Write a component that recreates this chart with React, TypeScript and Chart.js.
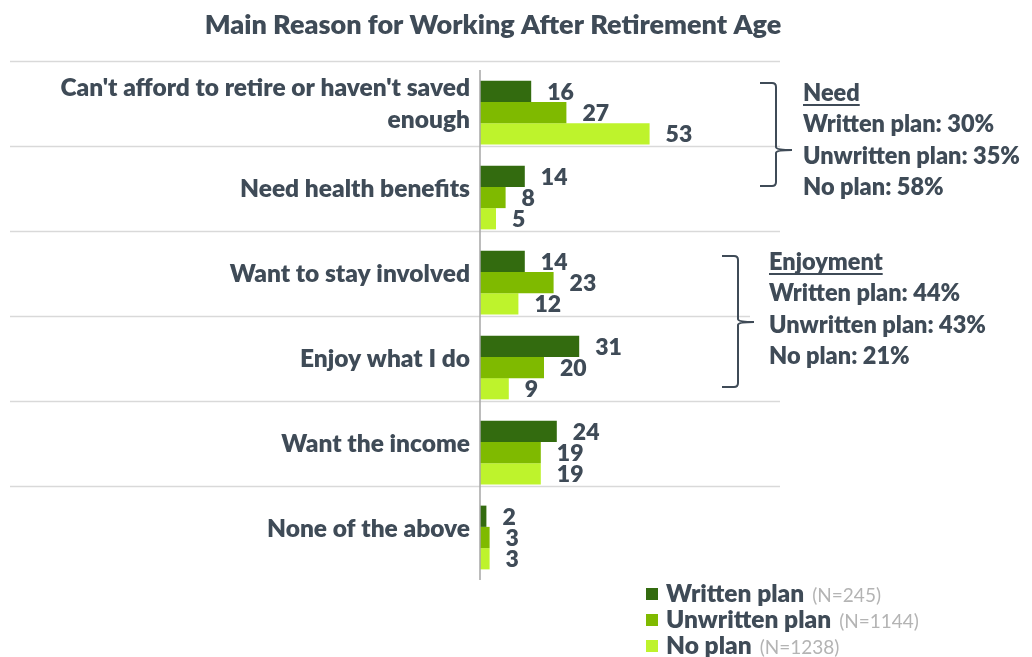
import React, { useEffect, useRef } from "react";
import { Chart, registerables } from "chart.js";

Chart.register(...registerables);

const categories: (string | string[])[] = [
  ["Can't afford to retire or haven't saved", "enough"],
  "Need health benefits",
  "Want to stay involved",
  "Enjoy what I do",
  "Want the income",
  "None of the above",
];
const seriesNames = ["Written plan", "Unwritten plan", "No plan"];
const seriesN = ["(N=245)", "(N=1144)", "(N=1238)"];
const writtenPlan = [16, 14, 14, 31, 24, 2];
const unwrittenPlan = [27, 8, 23, 20, 19, 3];
const noPlan = [53, 5, 12, 9, 19, 3];
const colors = ["#336B0F", "#7FBA00", "#BEF32C"];
const title = "Main Reason for Working After Retirement Age";
const needLines = ["Need", "Written plan: 30%", "Unwritten plan: 35%", "No plan: 58%"];
const enjoyLines = ["Enjoyment", "Written plan: 44%", "Unwritten plan: 43%", "No plan: 21%"];

const TEXT = "#3F4B57";
const FONT = "Lato, 'Open Sans', sans-serif";
const W = "800";

const overlay = {
  id: "overlay",
  beforeDatasetsDraw(chart: any) {
    const ctx = chart.ctx;
    const y = chart.scales.y;
    ctx.save();
    ctx.strokeStyle = "#D9D9D9";
    ctx.lineWidth = 1.5;
    categories.forEach((_, i) => {
      const py = Math.round(y.getPixelForValue(i) - 52) + 0.5;
      ctx.beginPath();
      ctx.moveTo(10, py);
      ctx.lineTo(i === 3 ? 750 : 780, py);
      ctx.stroke();
    });
    ctx.restore();
  },
  afterDatasetsDraw(chart: any) {
    const ctx = chart.ctx;
    const ys = chart.scales.y;
    const area = chart.chartArea;
    ctx.save();
    // axis line
    ctx.strokeStyle = "#A6A6A6";
    ctx.lineWidth = 1.5;
    ctx.beginPath();
    ctx.moveTo(area.left, area.top);
    ctx.lineTo(area.left, area.bottom);
    ctx.stroke();

    // title
    ctx.fillStyle = TEXT;
    ctx.textAlign = "center";
    ctx.textBaseline = "middle";
    ctx.font = `${W} 27px ${FONT}`;
    ctx.fillText(title, 493, 25);

    // category labels
    ctx.textAlign = "right";
    ctx.font = `${W} 24.5px ${FONT}`;
    categories.forEach((c, i) => {
      const cy = ys.getPixelForValue(i) - 8;
      const lines = Array.isArray(c) ? c : [c];
      const lh = 32;
      lines.forEach((l, k) => {
        ctx.fillText(l, area.left - 10, cy + (k - (lines.length - 1) / 2) * lh);
      });
    });

    // data labels
    ctx.textAlign = "left";
    ctx.font = `${W} 23px ${FONT}`;
    chart.data.datasets.forEach((ds: any, di: number) => {
      const meta = chart.getDatasetMeta(di);
      meta.data.forEach((bar: any, i: number) => {
        ctx.fillText(String(ds.data[i]), bar.x + 16, bar.y + 1);
      });
    });

    // brackets
    ctx.strokeStyle = TEXT;
    ctx.lineWidth = 2;
    const bracket = (x: number, top: number, bottom: number, mid: number, tip: number) => {
      ctx.beginPath();
      ctx.moveTo(x - 16, top);
      ctx.lineTo(x - 4, top);
      ctx.quadraticCurveTo(x, top, x, top + 4);
      ctx.lineTo(x, mid - 3);
      ctx.quadraticCurveTo(x, mid, tip, mid);
      ctx.moveTo(tip, mid);
      ctx.quadraticCurveTo(x, mid, x, mid + 3);
      ctx.lineTo(x, bottom - 4);
      ctx.quadraticCurveTo(x, bottom, x - 4, bottom);
      ctx.lineTo(x - 16, bottom);
      ctx.stroke();
    };
    bracket(776, 83, 186, 150, 792);
    bracket(738, 256, 387, 322, 754);

    // annotation text
    ctx.fillStyle = TEXT;
    ctx.textAlign = "left";
    ctx.font = `${W} 23.5px ${FONT}`;
    const block = (lines: string[], x: number, y0: number) => {
      lines.forEach((l, k) => {
        const yy = y0 + k * 31.5;
        ctx.fillText(l, x, yy);
        if (k === 0) {
          const w = ctx.measureText(l).width;
          ctx.lineWidth = 2;
          ctx.beginPath();
          ctx.moveTo(x, yy + 12);
          ctx.lineTo(x + w, yy + 12);
          ctx.stroke();
        }
      });
    };
    block(needLines, 803, 93);
    block(enjoyLines, 769, 262);

    // legend
    seriesNames.forEach((n, i) => {
      const ly = 594 + i * 26;
      ctx.fillStyle = colors[i];
      ctx.fillRect(646, ly - 6, 12, 12);
      ctx.fillStyle = TEXT;
      ctx.font = `${W} 24.5px ${FONT}`;
      ctx.fillText(n, 666, ly);
      const w = ctx.measureText(n).width;
      ctx.fillStyle = "#B4B4B4";
      ctx.font = `19px ${FONT}`;
      ctx.fillText(seriesN[i], 666 + w + 8, ly + 2);
    });
    ctx.restore();
  },
};

export default function App() {
  const ref = useRef<HTMLCanvasElement>(null);
  useEffect(() => {
    if (!ref.current) return;
    const chart = new Chart(ref.current, {
      type: "bar",
      data: {
        labels: categories as any,
        datasets: [writtenPlan, unwrittenPlan, noPlan].map((d, i) => ({
          label: seriesNames[i],
          data: d,
          backgroundColor: colors[i],
          borderWidth: 0,
          categoryPercentage: 0.75,
          barPercentage: 1.0,
        })),
      },
      options: {
        indexAxis: "y",
        animation: false,
        responsive: false,
        maintainAspectRatio: false,
        layout: { padding: { left: 480, right: 232, top: 70, bottom: 77 } },
        scales: {
          x: { min: 0, max: 100, display: false },
          y: { display: false },
        },
        plugins: { legend: { display: false }, title: { display: false }, tooltip: { enabled: false } },
      },
      plugins: [overlay],
    });
    return () => chart.destroy();
  }, []);
  return (
    <div style={{ position: "fixed", left: 0, top: 0, width: 1032, height: 657, background: "#fff" }}>
      <canvas ref={ref} width={1032} height={657} style={{ width: 1032, height: 657 }} />
    </div>
  );
}
